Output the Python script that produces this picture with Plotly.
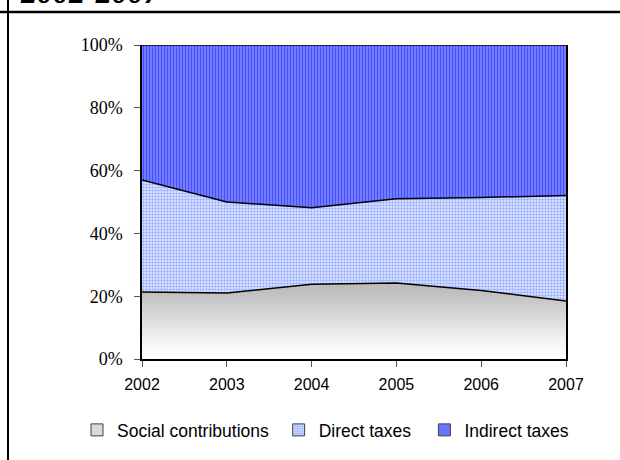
import plotly.graph_objects as go

# Shares of tax revenue by type (percent of total)
years = [2002, 2003, 2004, 2005, 2006, 2007]
social_contributions = [21.3, 21.0, 23.8, 24.2, 21.8, 18.5]
direct_taxes = [35.7, 29.0, 24.4, 26.8, 29.6, 33.6]
indirect_taxes = [43.0, 50.0, 51.8, 49.0, 48.6, 47.9]
y_ticks = [0, 20, 40, 60, 80, 100]
y_tick_labels = ["0%", "20%", "40%", "60%", "80%", "100%"]
heading = "2002-2007"

W, H = 620, 460
L, R, T, B = 142, 566, 45, 359  # plot area in pixels


def px_x(p):
    return (p - L) / (R - L)


def px_y(p):
    return (B - p) / (B - T)


fig = go.Figure()

fig.add_trace(go.Scatter(
    x=years, y=social_contributions, name="Social contributions",
    stackgroup="tax", groupnorm="percent", mode="lines",
    line=dict(color="black", width=1.5),
    fillgradient=dict(type="vertical", start=0, stop=22,
                      colorscale=[[0, "#ffffff"], [0.25, "#f4f4f4"], [1, "#bdbdbd"]]),
    showlegend=False, hoverinfo="skip",
))
fig.add_trace(go.Scatter(
    x=years, y=direct_taxes, name="Direct taxes",
    stackgroup="tax", mode="lines",
    line=dict(color="black", width=1.5),
    fillpattern=dict(shape=".", fgcolor="#4a6fff", bgcolor="#e6ecff",
                     size=3, solidity=0.5),
    showlegend=False, hoverinfo="skip",
))
fig.add_trace(go.Scatter(
    x=years, y=indirect_taxes, name="Indirect taxes",
    stackgroup="tax", mode="lines",
    line=dict(color="black", width=1.5),
    fillpattern=dict(shape="|", fgcolor="#0000ff", bgcolor="#8f9bff",
                     size=3, solidity=0.6),
    showlegend=False, hoverinfo="skip",
))

# Small square legend keys (trailing spaces set the gaps between entries)
legend_keys = [
    ("Social contributions\u00a0", dict(color="#d9d9d9", line=dict(color="#404040", width=1))),
    ("Direct taxes\u00a0\u2009", dict(color="#e6ecff", line=dict(color="#404040", width=1),
                                       pattern=dict(shape=".", fgcolor="#4a6fff", size=3,
                                                    solidity=0.6))),
    ("Indirect taxes", dict(color="#8f9bff", line=dict(color="#404040", width=1),
                            pattern=dict(shape="|", fgcolor="#0000ff", size=2, solidity=0.5))),
]
for name, marker in legend_keys:
    fig.add_trace(go.Bar(x=[None], y=[None], name=name, marker=marker,
                         showlegend=True, hoverinfo="skip"))

fig.update_layout(
    width=W, height=H,
    margin=dict(l=L, r=W - R, t=T, b=H - B, pad=0),
    paper_bgcolor="white", plot_bgcolor="white",
    showlegend=True,
    legend=dict(orientation="h", x=px_x(77), xanchor="left",
                y=px_y(430), yanchor="middle",
                font=dict(family="Liberation Sans, Arial", size=17.5, color="black"),
                traceorder="normal", itemwidth=30),
    xaxis=dict(range=[2002, 2007], tickvals=years, ticktext=[str(y) for y in years],
               showgrid=False, zeroline=False, showline=True, linecolor="black",
               linewidth=1.5, ticks="outside", ticklen=6, tickcolor="#555555",
               ticklabelstandoff=4,
               tickfont=dict(family="Liberation Sans, Arial", size=16, color="black")),
    yaxis=dict(range=[0, 100], tickvals=y_ticks, ticktext=y_tick_labels,
               showgrid=False, zeroline=False, showline=True, linecolor="black",
               linewidth=1.5, mirror=True, ticks="outside", ticklen=6,
               tickcolor="#555555", ticklabelstandoff=8,
               tickfont=dict(family="Liberation Serif, Times New Roman", size=18,
                             color="black")),
    shapes=[
        dict(type="line", xref="paper", yref="paper",
             x0=px_x(0), x1=px_x(W), y0=px_y(12), y1=px_y(12),
             line=dict(color="black", width=2.5)),
        dict(type="line", xref="paper", yref="paper",
             x0=px_x(8), x1=px_x(8), y0=px_y(0), y1=px_y(H),
             line=dict(color="black", width=2)),
    ],
    annotations=[
        dict(text=f"<b><i>{heading}</i></b>", xref="paper", yref="paper",
             x=px_x(18), xanchor="left", y=px_y(12), yanchor="bottom",
             showarrow=False,
             font=dict(family="Liberation Serif, Times New Roman", size=32,
                       color="black")),
    ],
)

fig.write_html("out.html")
